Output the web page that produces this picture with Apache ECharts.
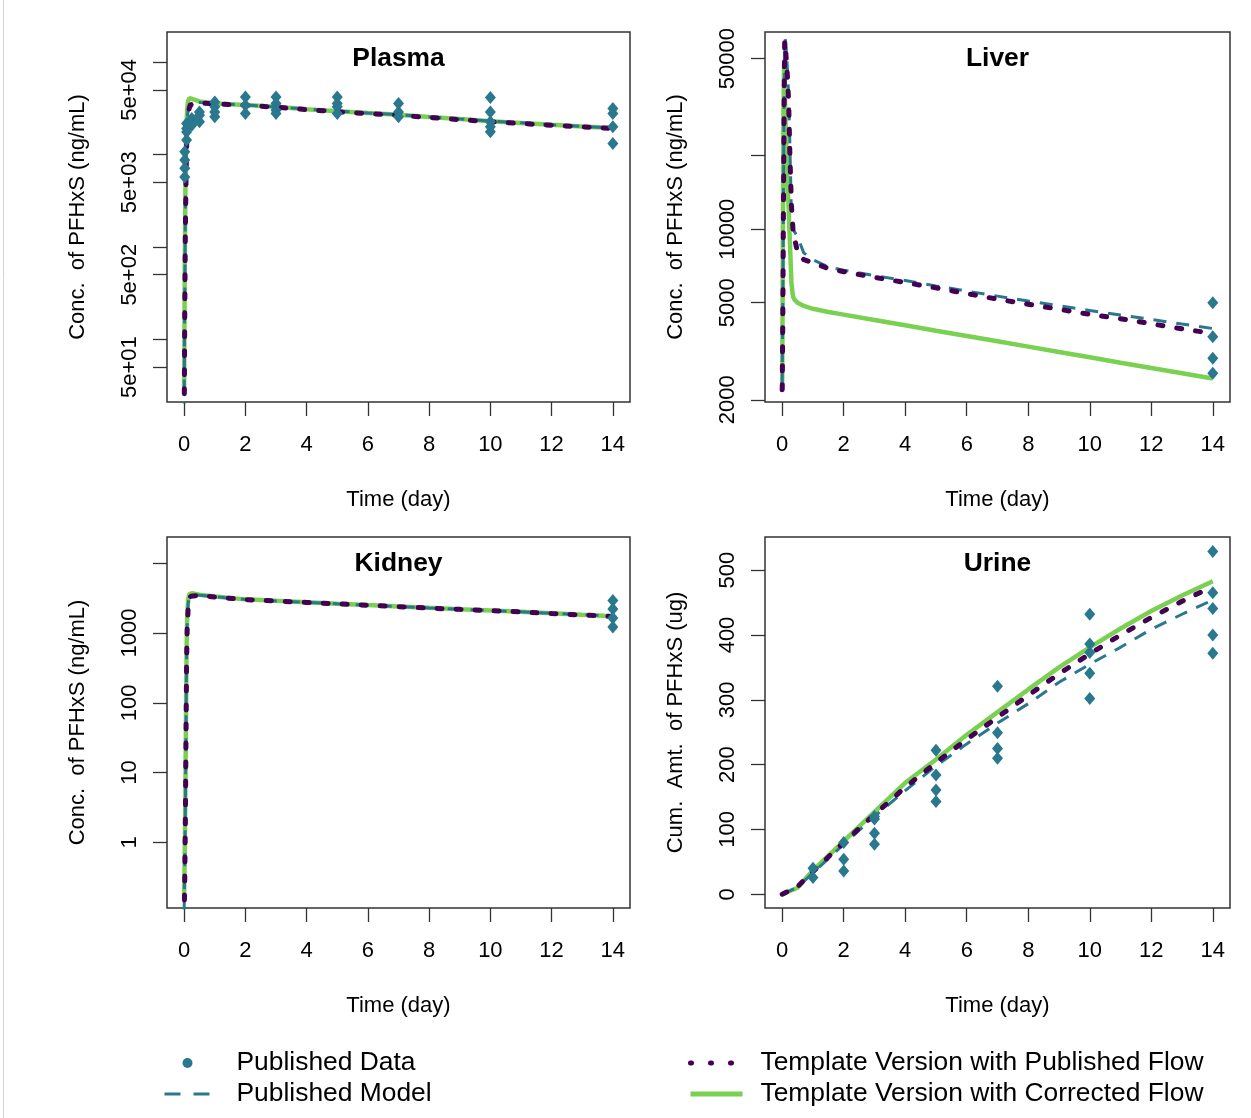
<!DOCTYPE html>
<html>
<head>
<meta charset="utf-8">
<script src="https://cdn.jsdelivr.net/npm/echarts@6/dist/echarts.min.js"></script>
<style>
  html, body { margin: 0; padding: 0; background: #fff; }
  #chart { width: 1251px; height: 1118px; }
</style>
</head>
<body>
<div id="chart"></div>
<script>
// ---------------- DATA ----------------
const xTicks = [0, 2, 4, 6, 8, 10, 12, 14];

// Plasma (ng/mL)
const plasmaTime = [0, 0.02, 0.04, 0.06, 0.08, 0.1, 0.13, 0.17, 0.21, 0.25, 0.5, 1, 2, 3, 4, 5, 6, 7, 8, 9, 10, 11, 12, 13, 14];
const plasmaPublishedModel = [15, 300, 2500, 8000, 16000, 24000, 31000, 35000, 36500, 37000, 36500, 35500, 34200, 32600, 31000, 29500, 28100, 26900, 25500, 24200, 23000, 22000, 21000, 20100, 19300];
const plasmaPublishedFlow = [10, 200, 1500, 5000, 12000, 18000, 26000, 32000, 34500, 35500, 36000, 35200, 34000, 32400, 30500, 28900, 27700, 26500, 25100, 23800, 22600, 21600, 20700, 19900, 19100];
const plasmaCorrectedFlow = [28, 600, 4000, 12000, 22000, 31000, 38000, 40500, 40500, 40000, 37500, 35600, 34300, 32700, 30900, 29300, 28000, 26800, 25400, 24100, 22900, 21900, 20900, 20100, 19300];
const plasmaObsTime = [0.02, 0.02, 0.02, 0.02, 0.08, 0.08, 0.08, 0.08, 0.25, 0.25, 0.25, 0.5, 0.5, 0.5, 1, 1, 1, 1, 2, 2, 2, 3, 3, 3, 3, 5, 5, 5, 5, 7, 7, 7, 10, 10, 10, 10, 10, 14, 14, 14, 14];
const plasmaObsConc = [10700, 8700, 7100, 5700, 21600, 19100, 17500, 14300, 24500, 22500, 20700, 28800, 26500, 22500, 37000, 32700, 28800, 25500, 41900, 34000, 27700, 41900, 35500, 30000, 27700, 41900, 35500, 32700, 27700, 35500, 28800, 25500, 41300, 28800, 22500, 19900, 17600, 31400, 27700, 19900, 13150];
const plasmaTickValues = [50, 100, 500, 1000, 5000, 10000, 50000, 100000];
const plasmaLabelValues = [50, 500, 5000, 50000];
const plasmaLabels = ['5e+01', '5e+02', '5e+03', '5e+04'];

// Liver (ng/mL)
const liverTime = [0, 0.02, 0.04, 0.06, 0.08, 0.1, 0.13, 0.17, 0.21, 0.25, 0.3, 0.35, 0.4, 0.5, 0.7, 1, 1.5, 2, 3, 4, 5, 6, 7, 8, 9, 10, 11, 12, 13, 14];
const liverPublishedModel = [2300, 5000, 14000, 33000, 55000, 60000, 55000, 45000, 35000, 22000, 11500, 10000, 9900, 9300, 8000, 7500, 7000, 6800, 6460, 6160, 5860, 5580, 5320, 5080, 4860, 4650, 4450, 4270, 4090, 3920];
const liverPublishedFlow = [2200, 4500, 12000, 30000, 59000, 56000, 50000, 42000, 33000, 20000, 12500, 10000, 9200, 8000, 7500, 7300, 6900, 6700, 6350, 6050, 5750, 5450, 5170, 4930, 4700, 4480, 4300, 4100, 3910, 3740];
const liverCorrectedFlow = [2250, 8000, 30000, 47000, 38000, 30000, 22000, 15500, 12000, 8800, 6000, 5300, 5150, 5000, 4850, 4720, 4580, 4470, 4250, 4040, 3840, 3655, 3475, 3305, 3140, 2990, 2840, 2700, 2570, 2445];
const liverObsTime = [14, 14, 14, 14];
const liverObsConc = [5000, 3630, 2960, 2570];
const liverTickValues = [2000, 5000, 10000, 20000, 50000];
const liverLabelValues = [2000, 5000, 10000, 50000];
const liverLabels = ['2000', '5000', '10000', '50000'];

// Kidney (ng/mL)
const kidneyTime = [0, 0.02, 0.04, 0.06, 0.08, 0.1, 0.13, 0.17, 0.21, 0.25, 0.5, 1, 2, 3, 4, 5, 6, 7, 8, 9, 10, 11, 12, 13, 14];
const kidneyPublishedModel = [0.1, 0.5, 3, 40, 500, 1500, 2600, 3300, 3500, 3520, 3480, 3300, 3020, 2880, 2750, 2620, 2500, 2390, 2280, 2190, 2100, 2010, 1920, 1830, 1750];
const kidneyPublishedFlow = [0.08, 0.3, 2, 30, 400, 1200, 2200, 3000, 3350, 3450, 3460, 3280, 3000, 2870, 2740, 2610, 2490, 2380, 2270, 2180, 2090, 2000, 1900, 1810, 1720];
const kidneyCorrectedFlow = [0.18, 0.7, 5, 60, 600, 1800, 3000, 3600, 3750, 3700, 3520, 3320, 3030, 2890, 2760, 2630, 2510, 2400, 2290, 2190, 2100, 2010, 1910, 1820, 1740];
const kidneyObsTime = [14, 14, 14, 14];
const kidneyObsConc = [2930, 2210, 1640, 1220];
const kidneyTickValues = [1, 10, 100, 1000, 10000];
const kidneyLabelValues = [1, 10, 100, 1000];
const kidneyLabels = ['1', '10', '100', '1000'];

// Urine (cumulative ug)
const urineTime = [0, 0.5, 1, 2, 3, 4, 5, 6, 7, 8, 9, 10, 11, 12, 13, 14];
const urinePublishedModel = [0, 11, 33, 77, 120, 160, 198, 232, 264, 294, 327, 355, 381, 409, 432, 454];
const urinePublishedFlow = [0, 12, 35, 80, 123, 165, 203, 239, 273, 307, 340, 371, 400, 427, 452, 475];
const urineCorrectedFlow = [0, 10, 37, 82, 127, 172, 208, 246, 281, 316, 350, 381, 410, 437, 461, 483];
const urineObsTime = [1, 1, 2, 2, 2, 3, 3, 3, 3, 5, 5, 5, 5, 7, 7, 7, 7, 10, 10, 10, 10, 10, 14, 14, 14, 14, 14];
const urineObsAmt = [40, 26, 80, 54, 36, 120, 116, 94, 77, 222, 184, 161, 143, 321, 249, 225, 210, 432, 386, 373, 341, 302, 529, 465, 441, 400, 372];
const urineTickValues = [0, 100, 200, 300, 400, 500];
const urineLabelValues = [0, 100, 200, 300, 400, 500];
const urineLabels = ['0', '100', '200', '300', '400', '500'];

const seriesNames = ['Published Data', 'Published Model', 'Template Version with Published Flow', 'Template Version with Corrected Flow'];

// ---------------- BUILD ----------------
const FONT = 'Liberation Sans, Arial, sans-serif';
const C_DATA = '#2A788E', C_MODEL = '#2A788E', C_PUB = '#440154', C_COR = '#7AD151';
const lg = Math.log10;

const panels = [
  { title: 'Plasma', log: true, grid: { left: 167, top: 32, width: 463, height: 370 }, yRange: [21.0, 211000],
    yName: 'Conc.  of PFHxS (ng/mL)', time: plasmaTime, model: plasmaPublishedModel, pub: plasmaPublishedFlow, cor: plasmaCorrectedFlow,
    obsT: plasmaObsTime, obsV: plasmaObsConc, ticks: plasmaTickValues, labVals: plasmaLabelValues, labs: plasmaLabels },
  { title: 'Liver', log: true, grid: { left: 765, top: 32, width: 465, height: 370 }, yRange: [1960, 64260],
    yName: 'Conc.  of PFHxS (ng/mL)', time: liverTime, model: liverPublishedModel, pub: liverPublishedFlow, cor: liverCorrectedFlow,
    obsT: liverObsTime, obsV: liverObsConc, ticks: liverTickValues, labVals: liverLabelValues, labs: liverLabels },
  { title: 'Kidney', log: true, grid: { left: 167, top: 537, width: 463, height: 371 }, yRange: [0.115, 23700],
    yName: 'Conc.  of PFHxS (ng/mL)', time: kidneyTime, model: kidneyPublishedModel, pub: kidneyPublishedFlow, cor: kidneyCorrectedFlow,
    obsT: kidneyObsTime, obsV: kidneyObsConc, ticks: kidneyTickValues, labVals: kidneyLabelValues, labs: kidneyLabels },
  { title: 'Urine', log: false, grid: { left: 765, top: 537, width: 465, height: 371 }, yRange: [-21.2, 551.2],
    yName: 'Cum.  Amt.  of PFHxS (ug)', time: urineTime, model: urinePublishedModel, pub: urinePublishedFlow, cor: urineCorrectedFlow,
    obsT: urineObsTime, obsV: urineObsAmt, ticks: urineTickValues, labVals: urineLabelValues, labs: urineLabels }
];

const tf = (p, v) => p.log ? lg(v) : v;
const zip = (p, ts, vs) => ts.map((t, i) => [t, tf(p, vs[i])]);

const grids = [], xAxes = [], yAxes = [], series = [], titles = [];
panels.forEach((p, i) => {
  grids.push(Object.assign({ show: true, borderColor: '#333', borderWidth: 1.5, backgroundColor: 'transparent', containLabel: false }, p.grid));
  xAxes.push({
    type: 'value', gridIndex: i, min: -0.56, max: 14.56, position: 'bottom',
    axisLine: { show: false, onZero: false },
    axisTick: { show: true, length: 14, lineStyle: { color: '#333', width: 1.3 }, customValues: xTicks },
    axisLabel: { customValues: xTicks, fontSize: 22, color: '#000', margin: 32, fontFamily: FONT },
    splitLine: { show: false },
    name: 'Time (day)', nameLocation: 'middle', nameGap: 87,
    nameTextStyle: { fontSize: 22, color: '#000', fontFamily: FONT }
  });
  const tickVals = p.ticks.map(v => tf(p, v));
  const labVals = p.labVals.map(v => tf(p, v));
  yAxes.push({
    type: 'value', gridIndex: i, min: tf(p, p.yRange[0]), max: tf(p, p.yRange[1]), position: 'left',
    axisLine: { show: false, onZero: false },
    axisTick: { show: true, length: 14, lineStyle: { color: '#333', width: 1.3 }, customValues: tickVals },
    axisLabel: {
      customValues: labVals, rotate: 90, fontSize: 22, color: '#000', margin: 26, fontFamily: FONT,
      formatter: function (v) {
        for (let k = 0; k < labVals.length; k++) if (Math.abs(labVals[k] - v) < 1e-6) return p.labs[k];
        return '';
      }
    },
    splitLine: { show: false },
    name: p.yName, nameLocation: 'middle', nameGap: 78,
    nameTextStyle: { fontSize: 22, color: '#000', fontFamily: FONT }
  });
  titles.push({
    text: p.title, left: p.grid.left + p.grid.width / 2, top: p.grid.top + 14, textAlign: 'center', padding: 0,
    textStyle: { fontSize: 26.4, fontWeight: 'bold', color: '#000', fontFamily: FONT }
  });
  series.push({
    name: seriesNames[3], type: 'line', xAxisIndex: i, yAxisIndex: i, data: zip(p, p.time, p.cor),
    symbol: 'none', color: C_COR, lineStyle: { color: C_COR, width: 4.5 }, z: 2, clip: true
  });
  series.push({
    name: seriesNames[1], type: 'line', xAxisIndex: i, yAxisIndex: i, data: zip(p, p.time, p.model),
    symbol: 'none', color: C_MODEL, lineStyle: { color: C_MODEL, width: 3, type: [13, 10] }, z: 3, clip: true
  });
  series.push({
    name: seriesNames[2], type: 'line', xAxisIndex: i, yAxisIndex: i, data: zip(p, p.time, p.pub),
    symbol: 'none', color: C_PUB, lineStyle: { color: C_PUB, width: 5, type: [5, 14], cap: 'round' }, z: 4, clip: true
  });
  series.push({
    name: seriesNames[0], type: 'scatter', xAxisIndex: i, yAxisIndex: i, data: zip(p, p.obsT, p.obsV),
    symbol: 'diamond', symbolSize: [11, 13], color: C_DATA, itemStyle: { color: C_DATA, opacity: 1 }, z: 5, clip: false
  });
});

const option = {
  animation: false,
  backgroundColor: '#fff',
  textStyle: { fontFamily: FONT },
  title: titles,
  grid: grids,
  xAxis: xAxes,
  yAxis: yAxes,
  graphic: [
    { type: 'line', shape: { x1: 3.5, y1: 0, x2: 3.5, y2: 1118 }, style: { stroke: '#d4d4d4', lineWidth: 1 }, silent: true }
  ],
  legend: [
    { data: [
        { name: seriesNames[0], icon: 'circle', itemStyle: { opacity: 1 } },
        { name: seriesNames[1], itemStyle: { opacity: 0 }, lineStyle: { width: 3, type: [16, 13], color: C_MODEL } }
      ],
      orient: 'vertical', left: 163, top: 1050,
      itemWidth: 46, itemHeight: 10, itemGap: 5, selectedMode: false, padding: 0,
      textStyle: { fontSize: 26.4, color: '#000', lineHeight: 26, padding: [0, 0, 0, 21], fontFamily: FONT } },
    { data: [
        { name: seriesNames[2], itemStyle: { opacity: 0 }, lineStyle: { width: 5, type: [1, 19], cap: 'round', color: C_PUB } },
        { name: seriesNames[3], itemStyle: { opacity: 0 }, lineStyle: { width: 5, color: C_COR } }
      ],
      orient: 'vertical', left: 688, top: 1050,
      itemWidth: 52, itemHeight: 10, itemGap: 5, selectedMode: false, padding: 0,
      textStyle: { fontSize: 26.4, color: '#000', lineHeight: 26, padding: [0, 0, 0, 13], fontFamily: FONT } }
  ],
  series: series
};

const chart = echarts.init(document.getElementById('chart'), null, { renderer: 'canvas' });
chart.setOption(option);
</script>
</body>
</html>
